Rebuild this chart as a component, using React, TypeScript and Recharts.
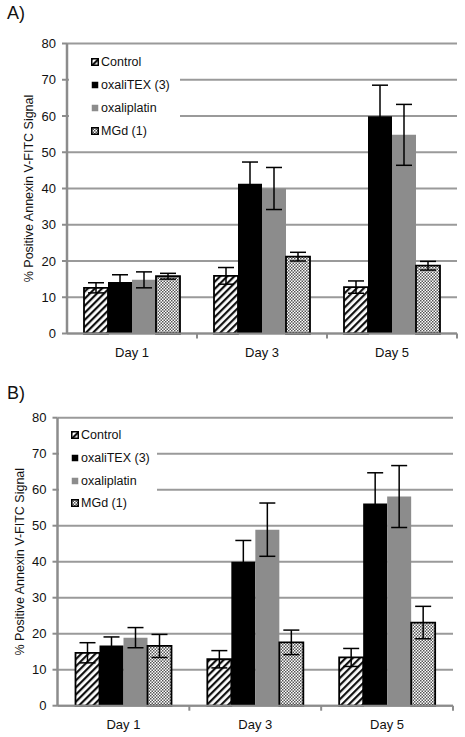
import React from 'react'
import { BarChart, Bar, XAxis, YAxis, CartesianGrid, ErrorBar, Legend } from 'recharts'

const days = ['Day 1', 'Day 3', 'Day 5']
const yTicks = [0, 10, 20, 30, 40, 50, 60, 70, 80]
const seriesNames = ['Control', 'oxaliTEX (3)', 'oxaliplatin', 'MGd (1)']

// panel A
const controlA = [12.6, 15.9, 12.8]
const controlErrA = [1.4, 2.3, 1.7]
const oxaliTexA = [14.2, 41.3, 59.9]
const oxaliTexErrA = [2.0, 6.0, 8.6]
const oxaliplatinA = [14.8, 40.0, 54.8]
const oxaliplatinErrA = [2.2, 5.8, 8.4]
const mgdA = [15.8, 21.2, 18.7]
const mgdErrA = [0.8, 1.2, 1.2]

// panel B
const controlB = [14.7, 12.9, 13.4]
const controlErrB = [2.8, 2.4, 2.5]
const oxaliTexB = [16.7, 40.0, 56.2]
const oxaliTexErrB = [2.4, 5.9, 8.5]
const oxaliplatinB = [18.9, 48.9, 58.1]
const oxaliplatinErrB = [2.8, 7.4, 8.6]
const mgdB = [16.6, 17.6, 23.1]
const mgdErrB = [3.2, 3.4, 4.5]

const keys = ['control', 'oxaliTex', 'oxaliplatin', 'mgd']

const seriesStyle: Record<string, { fill: string; stroke?: string }> = {
  control: { fill: 'url(#stripes)', stroke: '#000' },
  oxaliTex: { fill: '#000' },
  oxaliplatin: { fill: '#8c8c8c' },
  mgd: { fill: 'url(#checker)', stroke: '#000' }
}

function buildRows(vals: number[][], errs: number[][]) {
  return days.map((day, i) => {
    const row: Record<string, string | number> = { day }
    keys.forEach((k, j) => {
      row[k] = vals[j][i]
      row[k + 'Err'] = errs[j][i]
    })
    return row
  })
}

const rowsA = buildRows(
  [controlA, oxaliTexA, oxaliplatinA, mgdA],
  [controlErrA, oxaliTexErrA, oxaliplatinErrA, mgdErrA]
)
const rowsB = buildRows(
  [controlB, oxaliTexB, oxaliplatinB, mgdB],
  [controlErrB, oxaliTexErrB, oxaliplatinErrB, mgdErrB]
)

const FONT = '"Liberation Sans", Arial, sans-serif'
const TICK_SIZE = 4

function DayTick(props: any) {
  const { x, y, payload, index, visibleTicksCount } = props
  const half = payload?.offset ?? 0
  const base = y - TICK_SIZE
  return (
    <g>
      {half > 0 && index > 0 && (
        <line x1={x - half} x2={x - half} y1={base} y2={base + 5} stroke="#8c8c8c" strokeWidth={2} />
      )}
      {half > 0 && index === visibleTicksCount - 1 && (
        <line x1={x + half} x2={x + half} y1={base} y2={base + 5} stroke="#8c8c8c" strokeWidth={2} />
      )}
      <text x={x} y={base + 23} textAnchor="middle" fontSize={13} fill="#111" fontFamily={FONT}>
        {payload.value}
      </text>
    </g>
  )
}

function LegendBox({ itemGap, padLeft }: { itemGap: number; padLeft: number }) {
  return (
    <div style={{ background: '#fff', fontFamily: FONT, fontSize: 12.5, color: '#111', paddingLeft: padLeft }}>
      {seriesNames.map((name, i) => {
        const st = seriesStyle[keys[i]]
        return (
          <div key={name} style={{ display: 'flex', alignItems: 'center', height: itemGap }}>
            <svg width={8} height={8} style={{ marginRight: 2 }}>
              <rect
                x={0.75}
                y={0.75}
                width={6.5}
                height={6.5}
                fill={st.fill}
                stroke={st.stroke ?? 'none'}
                strokeWidth={1.5}
              />
            </svg>
            <span>{name}</span>
          </div>
        )
      })}
    </div>
  )
}

interface PanelProps {
  rows: Record<string, string | number>[]
  top: number
  height: number
  margin: { top: number; right: number; left: number; bottom: number }
  yAxisWidth: number
  labelX: number
  legendPos: { left: number; top: number; width: number; itemGap: number; padLeft: number }
  tag: string
}

function Panel({ rows, top, height, margin, yAxisWidth, labelX, legendPos, tag }: PanelProps) {
  const plotTop = margin.top
  const plotBottom = height - margin.bottom - 30
  return (
    <div style={{ position: 'absolute', left: 0, top, width: 465, height }}>
      <div style={{ position: 'absolute', left: 7, top: 3, fontFamily: FONT, fontSize: 18, color: '#111', zIndex: 2 }}>
        {tag}
      </div>
      <BarChart width={465} height={height} data={rows} margin={margin} barSize={24} barGap={0}>
        <CartesianGrid horizontal vertical={false} stroke="#9a9a9a" strokeWidth={2} />
        <XAxis
          dataKey="day"
          height={30}
          tickLine={false}
          tickSize={TICK_SIZE}
          tickMargin={0}
          axisLine={{ stroke: '#8c8c8c', strokeWidth: 2 }}
          tick={(p: any) => <DayTick {...p} />}
        />
        <YAxis
          width={yAxisWidth}
          domain={[0, 80]}
          ticks={yTicks}
          interval={0}
          tickSize={5}
          tickMargin={6}
          tickLine={{ stroke: '#8c8c8c', strokeWidth: 2 }}
          axisLine={{ stroke: '#8c8c8c', strokeWidth: 2.5 }}
          tick={{ fontSize: 13, fill: '#111', fontFamily: FONT }}
        />
        <Legend
          layout="vertical"
          align="center"
          verticalAlign="middle"
          wrapperStyle={{ left: legendPos.left, top: legendPos.top, width: legendPos.width, height: 'auto' }}
          content={() => <LegendBox itemGap={legendPos.itemGap} padLeft={legendPos.padLeft} />}
        />
        {keys.map((k) => (
          <Bar
            key={k}
            dataKey={k}
            fill={seriesStyle[k].fill}
            stroke={seriesStyle[k].stroke ?? 'none'}
            strokeWidth={seriesStyle[k].stroke ? 1.8 : 0}
            isAnimationActive={false}
          >
            <ErrorBar dataKey={k + 'Err'} width={8} stroke="#000" strokeWidth={1.5} isAnimationActive={false} />
          </Bar>
        ))}
        <text
          transform={`translate(${labelX}, ${(plotTop + plotBottom) / 2}) rotate(-90)`}
          textAnchor="middle"
          dominantBaseline="central"
          fontSize={12.5}
          fill="#111"
          fontFamily={FONT}
        >
          % Positive Annexin V-FITC Signal
        </text>
      </BarChart>
    </div>
  )
}

export default function App() {
  return (
    <div style={{ position: 'absolute', left: 0, top: 0, width: 465, height: 737, background: '#fff' }}>
      <svg width={0} height={0} style={{ position: 'absolute' }}>
        <defs>
          <pattern id="stripes" patternUnits="userSpaceOnUse" width={5} height={5} patternTransform="rotate(45)">
            <rect width={5} height={5} fill="#fff" />
            <rect width={2.2} height={5} fill="#111" />
          </pattern>
          <pattern id="checker" patternUnits="userSpaceOnUse" width={3} height={3}>
            <rect width={3} height={3} fill="#fff" />
            <rect width={1.5} height={1.5} fill="#555" />
            <rect x={1.5} y={1.5} width={1.5} height={1.5} fill="#555" />
          </pattern>
        </defs>
      </svg>
      <Panel
        rows={rowsA}
        top={0}
        height={370}
        margin={{ top: 43.5, right: 8, left: 0, bottom: 6.5 }}
        yAxisWidth={67}
        labelX={29}
        legendPos={{ left: 69, top: 50, width: 111, itemGap: 23, padLeft: 22 }}
        tag="A)"
      />
      <Panel
        rows={rowsB}
        top={380}
        height={357}
        margin={{ top: 37.7, right: 12, left: 0, bottom: 1.3 }}
        yAxisWidth={57.5}
        labelX={20}
        legendPos={{ left: 59, top: 44, width: 98, itemGap: 22.7, padLeft: 12 }}
        tag="B)"
      />
    </div>
  )
}
